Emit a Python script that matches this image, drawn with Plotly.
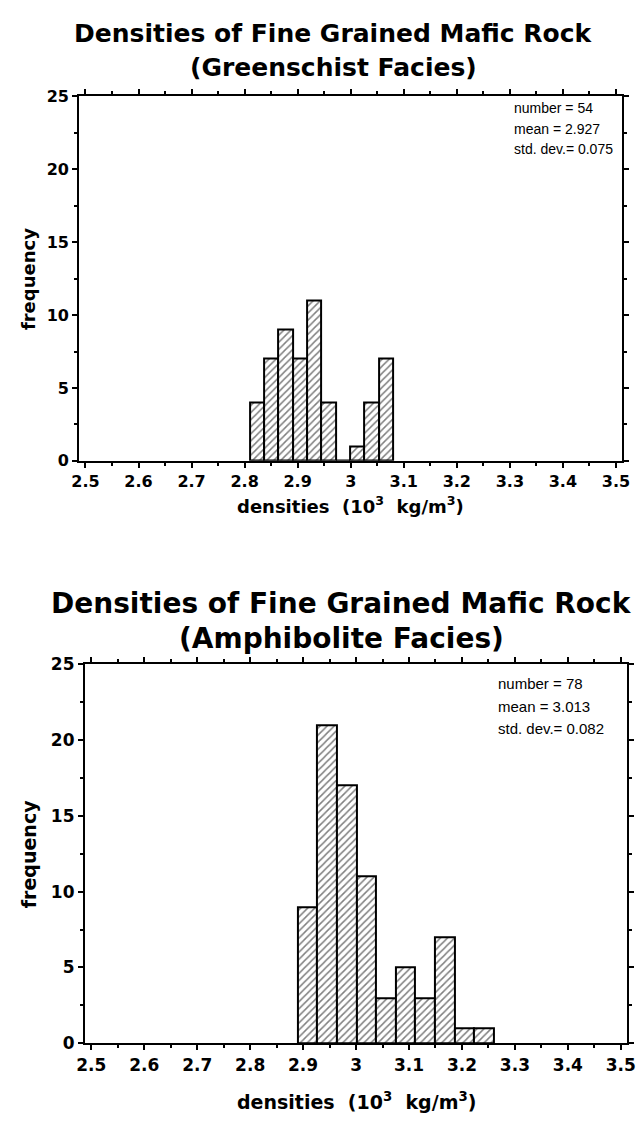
import plotly.graph_objects as go

W, H = 642, 1124

# ---- data ----
greenschist_counts = [4, 7, 9, 7, 11, 4, 0, 1, 4, 7]
greenschist_bin_start = 2.81
greenschist_bin_width = 0.027
greenschist_stats = ["number = 54", "mean = 2.927", "std. dev.= 0.075"]

amphibolite_counts = [9, 21, 17, 11, 3, 5, 3, 7, 1, 1]
amphibolite_bin_start = 2.89
amphibolite_bin_width = 0.037
amphibolite_stats = ["number = 78", "mean = 3.013", "std. dev.= 0.082"]

x_tick_vals = [2.5, 2.6, 2.7, 2.8, 2.9, 3.0, 3.1, 3.2, 3.3, 3.4, 3.5]
x_tick_text = ["2.5", "2.6", "2.7", "2.8", "2.9", "3", "3.1", "3.2", "3.3", "3.4", "3.5"]
y_tick_vals = [0, 5, 10, 15, 20, 25]

titles = [["Densities of Fine Grained Mafic Rock", "(Greenschist Facies)"],
          ["Densities of Fine Grained Mafic Rock", "(Amphibolite Facies)"]]

# ---- layout geometry (pixels) ----
panels = [
    dict(x0=72, x1=630, y0=88, y1=459, title_x=333, title_y=(24, 59), title_size=25, tick_size=16,
         xtitle_size=18, xtitle_y=504, ytitle_x=20, ytitle_size=18,
         stats_x=517, stats_y=100, stats_dy=21, stats_size=14),
    dict(x0=78, x1=635, y0=666, y1=1052, title_x=342, title_y=(604, 640), title_size=28, tick_size=17,
         xtitle_size=19, xtitle_y=1111, ytitle_x=20, ytitle_size=19,
         stats_x=500, stats_y=686, stats_dy=23, stats_size=15),
]

def px(x):
    return x / W

def py(y):
    return 1 - y / H

fig = go.Figure()
data_sets = [
    (greenschist_counts, greenschist_bin_start, greenschist_bin_width, greenschist_stats),
    (amphibolite_counts, amphibolite_bin_start, amphibolite_bin_width, amphibolite_stats),
]

annotations = []
for i, ((counts, start, bw, stats), p) in enumerate(zip(data_sets, panels)):
    n = "" if i == 0 else str(i + 1)
    centers = [start + bw * (k + 0.5) for k in range(len(counts))]
    fig.add_trace(go.Bar(
        x=centers, y=counts, width=bw,
        marker=dict(color="white", line=dict(color="black", width=2),
                    pattern=dict(shape="/", fgcolor="black", bgcolor="white", size=5, solidity=0.3)),
        xaxis="x" + n, yaxis="y" + n, showlegend=False,
    ))
    axcommon = dict(showline=True, linewidth=2, linecolor="black", mirror="ticks",
                    ticks="outside", ticklen=5, tickwidth=2, tickcolor="black",
                    showgrid=False, zeroline=False,
                    tickfont=dict(family="DejaVu Sans", size=p["tick_size"], color="black", weight="bold"))
    fig.update_layout(**{
        "xaxis" + n: dict(domain=[px(p["x0"]), px(p["x1"])], range=[2.488, 3.512],
                          tickvals=x_tick_vals, ticktext=x_tick_text, anchor="y" + n,
                          minor=dict(dtick=0.05, ticklen=3, tickwidth=1.5, ticks="outside", tickcolor="black"),
                          **axcommon),
        "yaxis" + n: dict(domain=[py(p["y1"]), py(p["y0"])], range=[0, 25],
                          tickvals=y_tick_vals, anchor="x" + n,
                          minor=dict(dtick=2.5, ticklen=3, tickwidth=1.5, ticks="outside", tickcolor="black"),
                          **axcommon),
    })
    cx = (p["x0"] + p["x1"]) / 2
    for line, ty in zip(titles[i], p["title_y"]):
        annotations.append(dict(text=line, x=px(p["title_x"]), y=py(ty), xref="paper", yref="paper",
                                xanchor="center", yanchor="middle", showarrow=False,
                                font=dict(family="DejaVu Sans", size=p["title_size"], color="black", weight="bold")))
    annotations.append(dict(text="densities\u00a0\u00a0(10<sup>3</sup>\u00a0\u00a0kg/m<sup>3</sup>)",
                            x=px(cx), y=py(p["xtitle_y"]), xref="paper", yref="paper",
                            xanchor="center", yanchor="middle", showarrow=False,
                            font=dict(family="DejaVu Sans", size=p["xtitle_size"], color="black", weight="bold")))
    annotations.append(dict(text="frequency", x=px(p["ytitle_x"]), y=py((p["y0"] + p["y1"]) / 2),
                            xref="paper", yref="paper", xanchor="center", yanchor="middle",
                            showarrow=False, textangle=-90,
                            font=dict(family="DejaVu Sans", size=p["ytitle_size"], color="black", weight="bold")))
    for k, s in enumerate(stats):
        annotations.append(dict(text=s, x=px(p["stats_x"]), y=py(p["stats_y"] + k * p["stats_dy"]),
                                xref="paper", yref="paper", xanchor="left", yanchor="middle",
                                showarrow=False,
                                font=dict(family="Liberation Sans", size=p["stats_size"], color="black")))

fig.update_layout(width=W, height=H, autosize=False, margin=dict(l=0, r=0, t=0, b=0),
                  paper_bgcolor="white", plot_bgcolor="white", annotations=annotations,
                  bargap=0)

fig.write_html("out.html")
